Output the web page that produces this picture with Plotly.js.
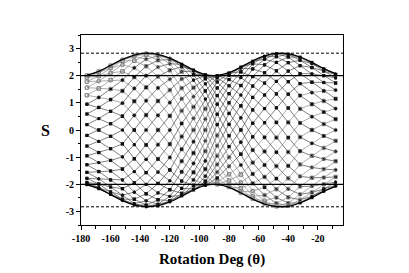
<!DOCTYPE html>
<html>
<head>
<meta charset="utf-8">
<script src="https://cdn.plot.ly/plotly-3.0.1.min.js"></script>
<style>
html,body{margin:0;padding:0;background:#fff;}
#chart{width:409px;height:273px;}
</style>
</head>
<body>
<div id="chart"></div>
<script>
// Rotation angles (deg) at which S was sampled
const thetaDeg = [-176,-168,-160,-152,-144,-136,-128,-120,-112,-104,-96,-88,-80,-72,-64,-56,-48,-40,-32,-24,-16,-8];

// S values of the 32 curves at each rotation angle (one array per angle, curve order 1..32)
const sAtM176 = [2.01,1.93,1.78,1.56,1.28,0.95,0.59,0.20,-0.20,-0.59,-0.95,-1.28,-1.56,-1.78,-1.93,-2.01,-2.01,-1.93,-1.78,-1.56,-1.28,-0.95,-0.59,-0.20,0.20,0.59,0.95,1.28,1.56,1.78,1.93,2.01];
const sAtM168 = [2.12,1.99,1.80,1.53,1.20,0.83,0.42,0,-0.42,-0.83,-1.20,-1.53,-1.80,-1.99,-2.12,-2.16,-2.12,-1.99,-1.80,-1.53,-1.20,-0.83,-0.42,0,0.42,0.83,1.20,1.53,1.80,1.99,2.12,2.16];
const sAtM160 = [2.28,2.10,1.84,1.51,1.12,0.69,0.23,-0.23,-0.69,-1.12,-1.51,-1.84,-2.10,-2.28,-2.37,-2.37,-2.28,-2.10,-1.84,-1.51,-1.12,-0.69,-0.23,0.23,0.69,1.12,1.51,1.84,2.10,2.28,2.37,2.37];
const sAtM152 = [2.40,2.16,1.84,1.44,0.99,0.51,0,-0.51,-0.99,-1.44,-1.84,-2.16,-2.40,-2.55,-2.60,-2.55,-2.40,-2.16,-1.84,-1.44,-0.99,-0.51,0,0.51,0.99,1.44,1.84,2.16,2.40,2.55,2.60,2.55];
const sAtM144 = [2.29,1.95,1.53,1.06,0.54,0,-0.54,-1.06,-1.53,-1.95,-2.29,-2.55,-2.71,-2.76,-2.71,-2.55,-2.29,-1.95,-1.53,-1.06,-0.54,0,0.54,1.06,1.53,1.95,2.29,2.55,2.71,2.76,2.71,2.55];
const sAtM136 = [2.00,1.57,1.08,0.55,0,-0.55,-1.08,-1.57,-2.00,-2.35,-2.61,-2.77,-2.83,-2.77,-2.61,-2.35,-2.00,-1.57,-1.08,-0.55,0,0.55,1.08,1.57,2.00,2.35,2.61,2.77,2.83,2.77,2.61,2.35];
const sAtM128 = [1.55,1.07,0.54,0,-0.54,-1.07,-1.55,-1.97,-2.32,-2.57,-2.73,-2.79,-2.73,-2.57,-2.32,-1.97,-1.55,-1.07,-0.54,0,0.54,1.07,1.55,1.97,2.32,2.57,2.73,2.79,2.73,2.57,2.32,1.97];
const sAtM120 = [1.01,0.52,0,-0.52,-1.01,-1.47,-1.87,-2.20,-2.44,-2.60,-2.65,-2.60,-2.44,-2.20,-1.87,-1.47,-1.01,-0.52,0,0.52,1.01,1.47,1.87,2.20,2.44,2.60,2.65,2.60,2.44,2.20,1.87,1.47];
const sAtM112 = [0.24,-0.24,-0.71,-1.15,-1.54,-1.88,-2.15,-2.33,-2.42,-2.42,-2.33,-2.15,-1.88,-1.54,-1.15,-0.71,-0.24,0.24,0.71,1.15,1.54,1.88,2.15,2.33,2.42,2.42,2.33,2.15,1.88,1.54,1.15,0.71];
const sAtM104 = [-0.43,-0.85,-1.23,-1.56,-1.84,-2.04,-2.17,-2.21,-2.17,-2.04,-1.84,-1.56,-1.23,-0.85,-0.43,0,0.43,0.85,1.23,1.56,1.84,2.04,2.17,2.21,2.17,2.04,1.84,1.56,1.23,0.85,0.43,0];
const sAtM96 = [-1.14,-1.44,-1.70,-1.89,-2.00,-2.04,-2.00,-1.89,-1.70,-1.44,-1.14,-0.78,-0.40,0,0.40,0.78,1.14,1.44,1.70,1.89,2.00,2.04,2.00,1.89,1.70,1.44,1.14,0.78,0.40,0,-0.40,-0.78];
const sAtM88 = [-1.77,-1.92,-2.00,-2.00,-1.92,-1.77,-1.55,-1.27,-0.95,-0.58,-0.20,0.20,0.58,0.95,1.27,1.55,1.77,1.92,2.00,2.00,1.92,1.77,1.55,1.27,0.95,0.58,0.20,-0.20,-0.58,-0.95,-1.27,-1.55];
const sAtM80 = [-2.10,-2.10,-2.02,-1.86,-1.63,-1.34,-1.00,-0.61,-0.21,0.21,0.61,1.00,1.34,1.63,1.86,2.02,2.10,2.10,2.02,1.86,1.63,1.34,1.00,0.61,0.21,-0.21,-0.61,-1.00,-1.34,-1.63,-1.86,-2.02];
const sAtM72 = [-2.28,-2.14,-1.93,-1.64,-1.29,-0.89,-0.45,0,0.45,0.89,1.29,1.64,1.93,2.14,2.28,2.32,2.28,2.14,1.93,1.64,1.29,0.89,0.45,0,-0.45,-0.89,-1.29,-1.64,-1.93,-2.14,-2.28,-2.32];
const sAtM64 = [-2.25,-1.97,-1.62,-1.20,-0.74,-0.25,0.25,0.74,1.20,1.62,1.97,2.25,2.44,2.53,2.53,2.44,2.25,1.97,1.62,1.20,0.74,0.25,-0.25,-0.74,-1.20,-1.62,-1.97,-2.25,-2.44,-2.53,-2.53,-2.44];
const sAtM56 = [-2.11,-1.73,-1.29,-0.79,-0.27,0.27,0.79,1.29,1.73,2.11,2.40,2.61,2.71,2.71,2.61,2.40,2.11,1.73,1.29,0.79,0.27,-0.27,-0.79,-1.29,-1.73,-2.11,-2.40,-2.61,-2.71,-2.71,-2.61,-2.40];
const sAtM48 = [-1.79,-1.33,-0.82,-0.28,0.28,0.82,1.33,1.79,2.18,2.49,2.70,2.81,2.81,2.70,2.49,2.18,1.79,1.33,0.82,0.28,-0.28,-0.82,-1.33,-1.79,-2.18,-2.49,-2.70,-2.81,-2.81,-2.70,-2.49,-2.18];
const sAtM40 = [-1.32,-0.81,-0.28,0.28,0.81,1.32,1.78,2.17,2.48,2.69,2.79,2.79,2.69,2.48,2.17,1.78,1.32,0.81,0.28,-0.28,-0.81,-1.32,-1.78,-2.17,-2.48,-2.69,-2.79,-2.79,-2.69,-2.48,-2.17,-1.78];
const sAtM32 = [-0.78,-0.26,0.26,0.78,1.27,1.71,2.08,2.37,2.57,2.68,2.68,2.57,2.37,2.08,1.71,1.27,0.78,0.26,-0.26,-0.78,-1.27,-1.71,-2.08,-2.37,-2.57,-2.68,-2.68,-2.57,-2.37,-2.08,-1.71,-1.27];
const sAtM24 = [-0.49,0,0.49,0.95,1.38,1.76,2.07,2.30,2.44,2.49,2.44,2.30,2.07,1.76,1.38,0.95,0.49,0,-0.49,-0.95,-1.38,-1.76,-2.07,-2.30,-2.44,-2.49,-2.44,-2.30,-2.07,-1.76,-1.38,-0.95];
const sAtM16 = [-0.22,0.22,0.66,1.07,1.44,1.75,2.00,2.17,2.25,2.25,2.17,2.00,1.75,1.44,1.07,0.66,0.22,-0.22,-0.66,-1.07,-1.44,-1.75,-2.00,-2.17,-2.25,-2.25,-2.17,-2.00,-1.75,-1.44,-1.07,-0.66];
const sAtM8 = [0,0.40,0.79,1.15,1.47,1.73,1.92,2.04,2.07,2.04,1.92,1.73,1.47,1.15,0.79,0.40,0,-0.40,-0.79,-1.15,-1.47,-1.73,-1.92,-2.04,-2.07,-2.04,-1.92,-1.73,-1.47,-1.15,-0.79,-0.40];

// Maximum / minimum S envelope
const envTop = [2.02,2.16,2.38,2.60,2.76,2.83,2.79,2.65,2.44,2.21,2.04,2.01,2.11,2.32,2.55,2.73,2.82,2.81,2.69,2.49,2.26,2.08];
const envBot = [-2.02,-2.16,-2.38,-2.60,-2.76,-2.83,-2.79,-2.65,-2.44,-2.21,-2.04,-2.01,-2.11,-2.32,-2.55,-2.73,-2.82,-2.81,-2.69,-2.49,-2.26,-2.08];

// Reference levels: classical bound and Tsirelson bound
const classicalBound = [2, -2];
const tsirelsonBound = [2.83, -2.83];

// Tick labels
const xTickVals = [-180,-160,-140,-120,-100,-80,-60,-40,-20];
const xTickText = ['-180','-160','-140','-120','-100','-80','-60','-40','-20'];
const xMinorVals = [-170,-150,-130,-110,-90,-70,-50,-30,-10];
const yTickVals = [-3,-2,-1,0,1,2,3];
const yTickText = ['-3','-2','-1','0','1','2','3'];
const yMinorVals = [-3.5,-2.5,-1.5,-0.5,0.5,1.5,2.5,3.5];

const columns = [sAtM176,sAtM168,sAtM160,sAtM152,sAtM144,sAtM136,sAtM128,sAtM120,sAtM112,sAtM104,sAtM96,sAtM88,sAtM80,sAtM72,sAtM64,sAtM56,sAtM48,sAtM40,sAtM32,sAtM24,sAtM16,sAtM8];

const traces = [];
const nCurves = columns[0].length;
for (let k = 0; k < nCurves; k++) {
  const y = columns.map(c => c[k]);
  const grayGroup = (k <= 4 || k >= 27);
  const sym = grayGroup ? (k % 2 ? 'square-open' : 'circle-open') : (k % 2 ? 'square' : 'circle');
  traces.push({
    x: thetaDeg, y: y, type: 'scatter', mode: 'lines+markers',
    line: {color: grayGroup ? '#8a8a8a' : '#4a4a4a', width: 0.7},
    marker: {symbol: sym, size: grayGroup ? 3.5 : 3.2, color: grayGroup ? '#808080' : '#111',
             line: {width: grayGroup ? 0.8 : 0, color: '#808080'}},
    hoverinfo: 'skip'
  });
}
traces.push({x: thetaDeg, y: envTop, type: 'scatter', mode: 'lines', line: {color: '#000', width: 1.3, shape: 'spline'}, hoverinfo: 'skip'});
traces.push({x: thetaDeg, y: envBot, type: 'scatter', mode: 'lines', line: {color: '#000', width: 1.3, shape: 'spline'}, hoverinfo: 'skip'});

const shapes = [];
classicalBound.forEach(v => shapes.push({type: 'line', xref: 'paper', x0: 0, x1: 1, yref: 'y', y0: v, y1: v, line: {color: '#000', width: 1.2}}));
tsirelsonBound.forEach(v => shapes.push({type: 'line', xref: 'paper', x0: 0, x1: 1, yref: 'y', y0: v, y1: v, line: {color: '#000', width: 1, dash: '3px,2px'}}));

const tickFont = {family: 'Liberation Serif', size: 10, weight: 'bold', color: '#000'};
const layout = {
  width: 409, height: 273,
  margin: {l: 81, r: 66, t: 35, b: 48, pad: 0},
  paper_bgcolor: '#fff', plot_bgcolor: '#fff',
  showlegend: false,
  xaxis: {
    range: [-180, -3], tickmode: 'array', tickvals: xTickVals, ticktext: xTickText,
    ticks: 'outside', ticklen: 4, tickwidth: 1, tickcolor: '#000',
    showline: true, linecolor: '#000', linewidth: 1, mirror: true,
    showgrid: false, zeroline: false, tickfont: tickFont,
    minor: {tickmode: 'array', tickvals: xMinorVals, ticks: 'outside', ticklen: 2.5, tickcolor: '#000', showgrid: false}
  },
  yaxis: {
    range: [-3.5, 3.5], tickmode: 'array', tickvals: yTickVals, ticktext: yTickText,
    ticks: 'outside', ticklen: 4, tickwidth: 1, tickcolor: '#000',
    showline: true, linecolor: '#000', linewidth: 1, mirror: true,
    showgrid: false, zeroline: false, tickfont: tickFont,
    minor: {tickmode: 'array', tickvals: yMinorVals, ticks: 'outside', ticklen: 2.5, tickcolor: '#000', showgrid: false}
  },
  shapes: shapes,
  annotations: [
    {text: 'S', xref: 'paper', yref: 'paper', x: -0.137, y: 0.5, xanchor: 'center', yanchor: 'middle', showarrow: false,
     font: {family: 'Liberation Serif', size: 16, weight: 'bold', color: '#000'}},
    {text: 'Rotation Deg (θ)', xref: 'paper', yref: 'paper', x: 0.5, y: -0.18, xanchor: 'center', yanchor: 'middle', showarrow: false,
     font: {family: 'Liberation Serif', size: 15, weight: 'bold', color: '#000'}}
  ]
};
Plotly.newPlot('chart', traces, layout, {staticPlot: true, displayModeBar: false});
</script>
</body>
</html>
